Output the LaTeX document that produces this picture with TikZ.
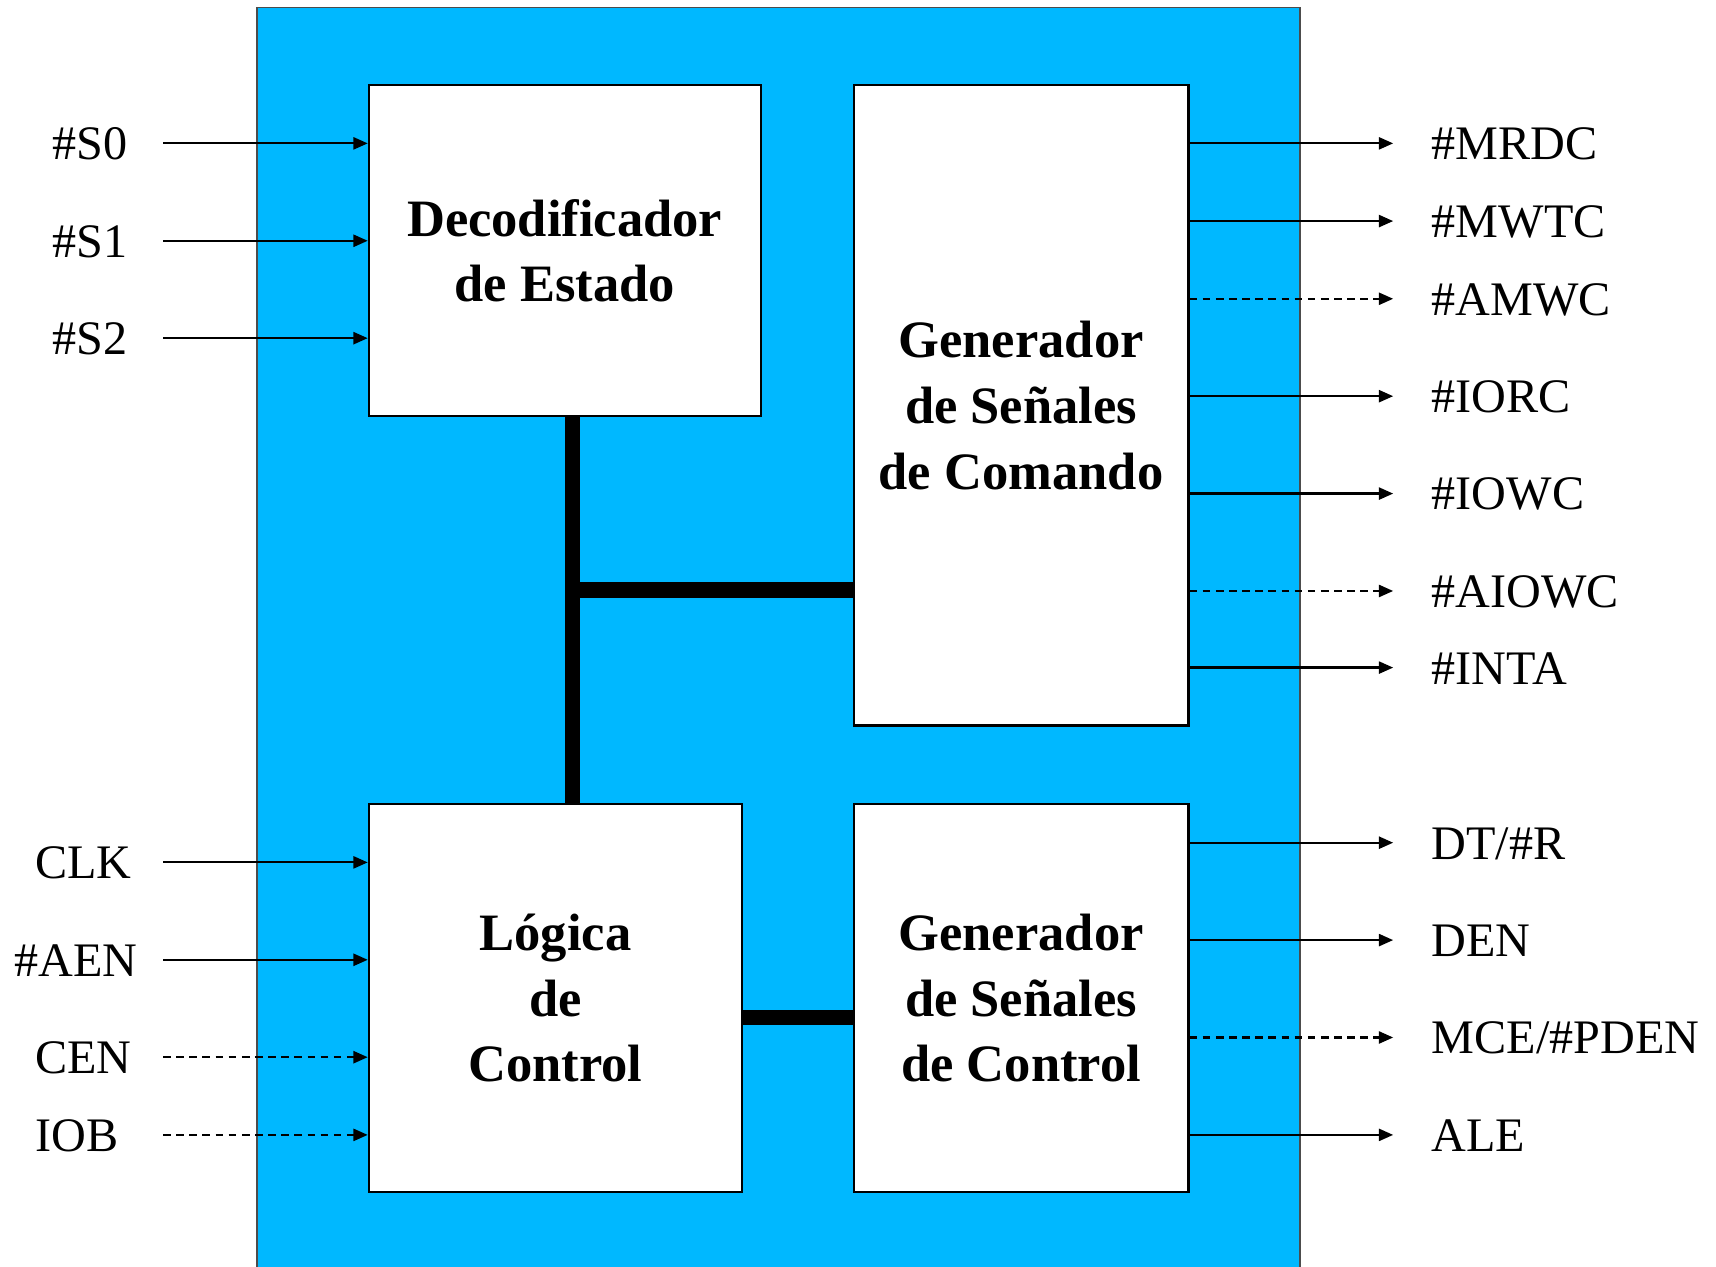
\documentclass[tikz,border=0pt]{standalone}
\usepackage{fontspec}
\setmainfont{Liberation Serif}
\usetikzlibrary{arrows.meta}
\definecolor{bgblue}{RGB}{0,184,255}
\tikzset{
  blk/.style={draw=black, line width=2pt, fill=white, align=center, inner sep=0pt,
    font=\fontsize{48}{60}\selectfont\bfseries},
  sig/.style={line width=2pt, -{Triangle[length=13pt,width=11pt]}},
  dsig/.style={sig, dash pattern=on 7pt off 5pt},
  bus/.style={line width=14pt},
  lbl/.style={anchor=base west, inner sep=0pt, font=\fontsize{44}{52}\selectfont}
}
\begin{document}
\begin{tikzpicture}[x=1pt,y=-1pt]
\useasboundingbox (0,0) rectangle (1568,1157);
\fill[white] (0,0) rectangle (1568,1157);
\draw[fill=bgblue, draw=black!70, line width=1.5pt] (235,1170) -- (235,7) -- (1188,7) -- (1188,1170);

% blocks
\node[blk, minimum width=358pt, minimum height=302pt] (dec) at (516,229) {Decodificador\\de Estado};
\node[blk, minimum width=306pt, minimum height=585pt] (gcom) at (933,370.5) {Generador\\de Señales\\de Comando};
\node[blk, minimum width=341pt, minimum height=354pt] (log) at (507.5,912) {Lógica\\de\\Control};
\node[blk, minimum width=306pt, minimum height=354pt] (gctl) at (933,912) {Generador\\de Señales\\de Control};

% buses
\coordinate (bj) at (523,539);
\coordinate (bk) at (729,930);
\draw[bus] (dec.south -| bj) -- (log.north -| bj);
\draw[bus] (bj) -- (bj -| gcom.west);
\draw[bus] (bk -| log.east) -- (bk -| gctl.west);

% inputs
\foreach \n/\y/\lx/\t/\st in {s0/131/48/{\#S0}/sig, s1/220/48/{\#S1}/sig, s2/309/48/{\#S2}/sig}{
  \coordinate (i\n) at (149,\y);
  \node[lbl] (l\n) at (\lx,\y+15) {\t};
  \draw[\st] (i\n) -- (i\n -| dec.west);
}
\foreach \n/\y/\lx/\t/\st in {clk/788/32/{CLK}/sig, aen/877/13/{\#AEN}/sig, cen/966/32/{CEN}/dsig, iob/1037/32/{IOB}/dsig}{
  \coordinate (i\n) at (149,\y);
  \node[lbl] (l\n) at (\lx,\y+15) {\t};
  \draw[\st] (i\n) -- (i\n -| log.west);
}

% outputs
\foreach \n/\y/\t/\st in {mrdc/131/{\#MRDC}/sig, mwtc/202/{\#MWTC}/sig, amwc/273/{\#AMWC}/dsig, iorc/362/{\#IORC}/sig, iowc/451/{\#IOWC}/sig, aiowc/540/{\#AIOWC}/dsig, inta/610/{\#INTA}/sig}{
  \coordinate (o\n) at (1273,\y);
  \node[lbl] (l\n) at (1308,\y+15) {\t};
  \draw[\st] (o\n -| gcom.east) -- (o\n);
}
\foreach \n/\y/\t/\st in {dtr/770/{DT/\#R}/sig, den/859/{DEN}/sig, mce/948/{MCE/\#PDEN}/dsig, ale/1037/{ALE}/sig}{
  \coordinate (o\n) at (1273,\y);
  \node[lbl] (l\n) at (1308,\y+15) {\t};
  \draw[\st] (o\n -| gctl.east) -- (o\n);
}
\end{tikzpicture}
\end{document}
